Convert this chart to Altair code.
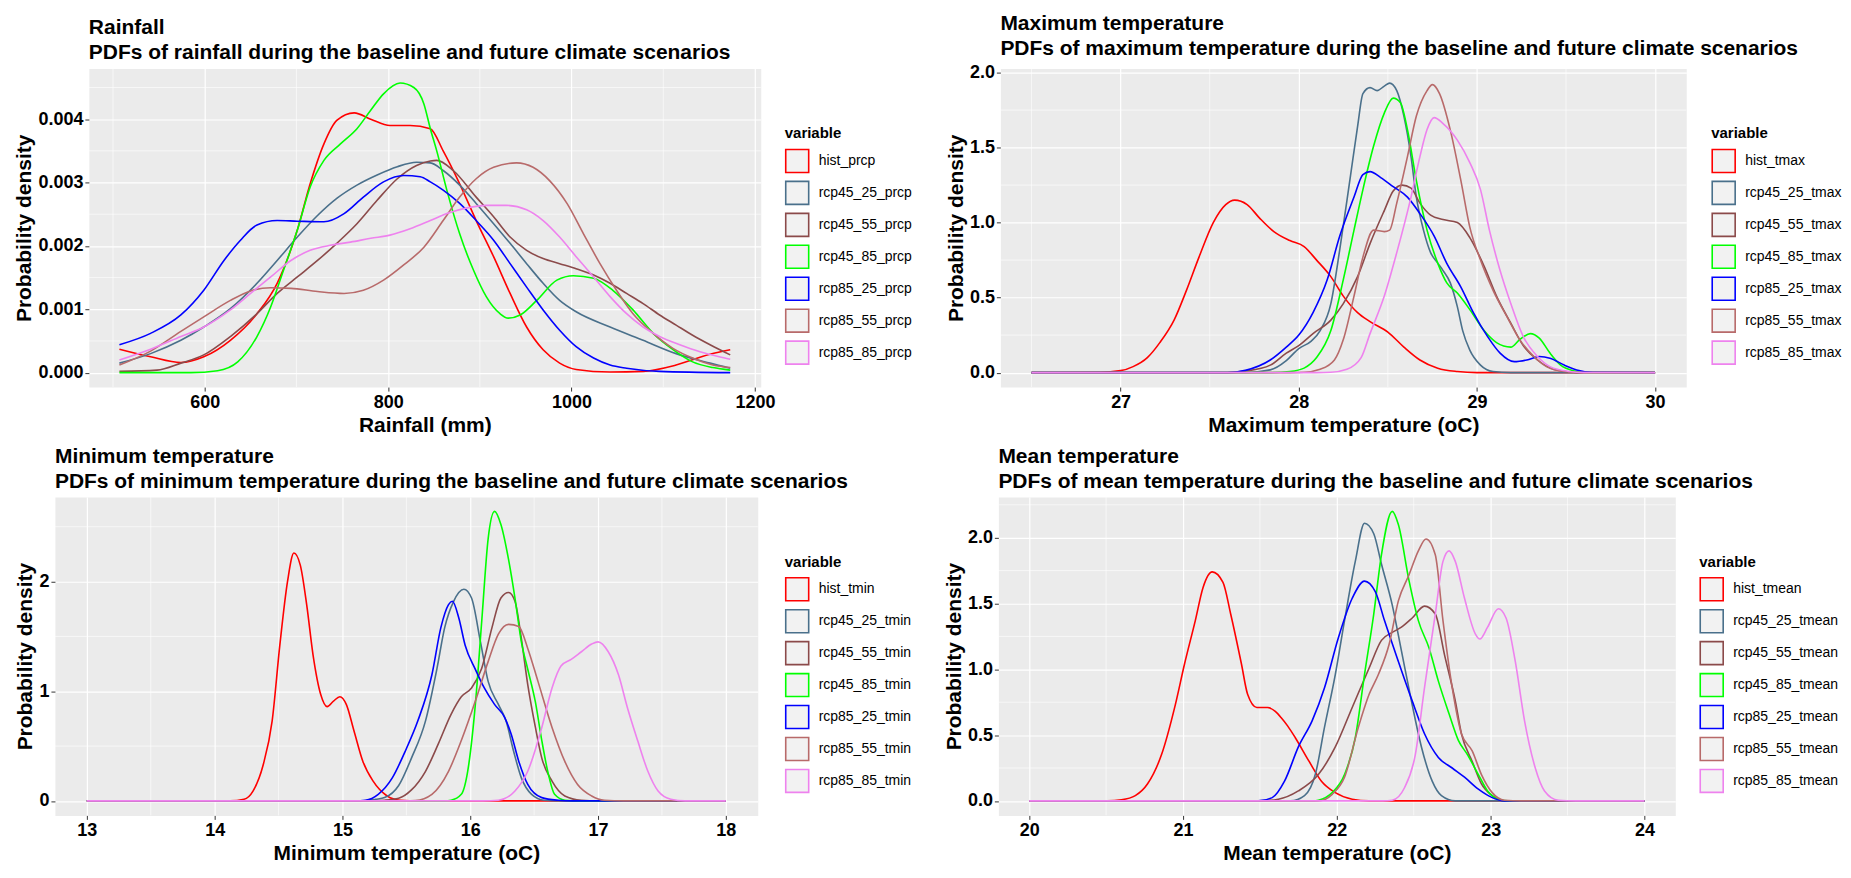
import altair as alt
import pandas as pd

FONT = "Liberation Sans"
COLORS = ["#FF0000", "#4A708B", "#8B4A4A", "#00FF00", "#0000FF", "#B86A6A", "#EE82EE"]

# ---------------- Rainfall ----------------
prcp_names = ["hist_prcp", "rcp45_25_prcp", "rcp45_55_prcp", "rcp45_85_prcp",
              "rcp85_25_prcp", "rcp85_55_prcp", "rcp85_85_prcp"]
hist_prcp_x = [507, 541, 574, 599, 628, 657, 679, 701, 715, 730, 744, 763, 781, 802, 824, 846, 860, 878, 896, 915, 933, 951, 969, 987, 1005, 1042, 1078, 1114, 1151, 1173]
hist_prcp_y = [0.00037, 0.00025, 0.00016, 0.00025, 0.00051, 0.00093, 0.00141, 0.00225, 0.00298, 0.00361, 0.00398, 0.0041, 0.0040, 0.0039, 0.0039, 0.00385, 0.0035, 0.00298, 0.0024, 0.00183, 0.00125, 0.00072, 0.00036, 0.00015, 0.00005, 0.00001, 0.00002, 0.00012, 0.00029, 0.00036]
r4525_prcp_x = [507, 541, 574, 599, 628, 657, 679, 701, 723, 744, 766, 788, 810, 831, 846, 860, 878, 896, 915, 933, 951, 969, 987, 1005, 1042, 1078, 1114, 1151, 1173]
r4525_prcp_y = [0.00015, 0.0003, 0.00051, 0.00072, 0.00101, 0.00141, 0.00177, 0.00214, 0.00248, 0.00275, 0.00296, 0.00312, 0.00325, 0.00332, 0.00331, 0.00319, 0.00296, 0.00267, 0.00235, 0.00204, 0.00172, 0.00141, 0.00114, 0.00096, 0.00072, 0.00051, 0.0003, 0.00015, 0.00007]
r4555_prcp_x = [507, 548, 574, 599, 628, 657, 679, 701, 723, 744, 766, 788, 810, 831, 846, 853, 871, 896, 915, 933, 951, 969, 987, 1005, 1024, 1042, 1060, 1078, 1096, 1114, 1132, 1151, 1173]
r4555_prcp_y = [0.00002, 0.00004, 0.00015, 0.00028, 0.00057, 0.00093, 0.00125, 0.00151, 0.00177, 0.00204, 0.00235, 0.00272, 0.00306, 0.00327, 0.00334, 0.00335, 0.00319, 0.00277, 0.00246, 0.00214, 0.00193, 0.0018, 0.00172, 0.00164, 0.00154, 0.00141, 0.00125, 0.00109, 0.00091, 0.00075, 0.00059, 0.00044, 0.00028]
r4585_prcp_x = [507, 585, 614, 636, 657, 672, 686, 701, 715, 730, 748, 766, 781, 795, 813, 828, 839, 846, 853, 864, 878, 893, 907, 922, 931, 944, 962, 984, 1002, 1024, 1045, 1067, 1089, 1111, 1132, 1154, 1173]
r4585_prcp_y = [0, 0, 0.00003, 0.00017, 0.00057, 0.00104, 0.00162, 0.00225, 0.00293, 0.00335, 0.00361, 0.00385, 0.00414, 0.0044, 0.00457, 0.0045, 0.00424, 0.00385, 0.0035, 0.00288, 0.00219, 0.00162, 0.0012, 0.00093, 0.00086, 0.00091, 0.00114, 0.00146, 0.00153, 0.00149, 0.0013, 0.00099, 0.00062, 0.00036, 0.00017, 0.00008, 0.00004]
r8525_prcp_x = [507, 541, 574, 599, 621, 639, 657, 679, 701, 730, 752, 773, 795, 817, 835, 846, 860, 878, 896, 915, 933, 951, 969, 987, 1005, 1024, 1042, 1060, 1096, 1173]
r8525_prcp_y = [0.00044, 0.00062, 0.00091, 0.0013, 0.00177, 0.00209, 0.00233, 0.0024, 0.00239, 0.00238, 0.00251, 0.00277, 0.00301, 0.00311, 0.00309, 0.00301, 0.00288, 0.00267, 0.0024, 0.00209, 0.00172, 0.00135, 0.00099, 0.00067, 0.00041, 0.00023, 0.00012, 0.00007, 0.00002, 0.0]
r8555_prcp_x = [507, 541, 574, 599, 628, 650, 672, 694, 723, 752, 773, 795, 817, 839, 860, 878, 896, 915, 940, 958, 976, 995, 1013, 1031, 1049, 1067, 1089, 1111, 1132, 1154, 1173]
r8555_prcp_y = [0.00012, 0.00034, 0.00065, 0.00088, 0.00114, 0.00129, 0.00134, 0.00133, 0.00128, 0.00125, 0.0013, 0.00146, 0.0017, 0.00198, 0.0024, 0.00277, 0.00306, 0.00324, 0.00331, 0.00324, 0.00303, 0.00267, 0.00219, 0.00172, 0.0013, 0.00093, 0.00062, 0.00038, 0.00023, 0.00012, 0.00008]
r8585_prcp_x = [507, 541, 574, 599, 628, 650, 672, 694, 715, 737, 759, 781, 802, 824, 846, 864, 886, 907, 929, 951, 969, 987, 1005, 1024, 1042, 1060, 1078, 1096, 1118, 1140, 1161, 1173]
r8585_prcp_y = [0.0002, 0.00037, 0.00057, 0.00072, 0.00099, 0.00125, 0.00151, 0.00177, 0.00193, 0.00201, 0.00206, 0.00212, 0.00217, 0.00227, 0.0024, 0.00251, 0.0026, 0.00264, 0.00264, 0.00257, 0.0024, 0.00214, 0.00183, 0.00151, 0.0012, 0.00093, 0.00072, 0.00057, 0.00044, 0.00033, 0.00025, 0.00021]

# ---------------- Maximum temperature ----------------
tmax_names = ["hist_tmax", "rcp45_25_tmax", "rcp45_55_tmax", "rcp45_85_tmax",
              "rcp85_25_tmax", "rcp85_55_tmax", "rcp85_85_tmax"]
hist_tmax_x = [26.5, 26.88, 27.0, 27.07, 27.15, 27.22, 27.3, 27.37, 27.44, 27.52, 27.59, 27.64, 27.71, 27.78, 27.86, 27.95, 28.03, 28.1, 28.18, 28.25, 28.33, 28.4, 28.5, 28.59, 28.68, 28.78, 28.89, 29.0, 30.0]
hist_tmax_y = [0, 0.002, 0.013, 0.04, 0.1, 0.2, 0.35, 0.55, 0.77, 1.0, 1.12, 1.15, 1.12, 1.03, 0.94, 0.88, 0.84, 0.75, 0.64, 0.51, 0.4, 0.34, 0.27, 0.17, 0.084, 0.029, 0.007, 0, 0]
r4525_tmax_x = [26.5, 27.7, 27.84, 27.93, 28.0, 28.07, 28.12, 28.18, 28.23, 28.29, 28.33, 28.36, 28.4, 28.44, 28.48, 28.51, 28.55, 28.59, 28.63, 28.66, 28.7, 28.74, 28.78, 28.81, 28.85, 28.89, 28.92, 28.96, 29.02, 29.09, 29.19, 30.0]
r4525_tmax_y = [0, 0, 0.018, 0.08, 0.16, 0.21, 0.28, 0.46, 0.82, 1.31, 1.64, 1.86, 1.9, 1.88, 1.91, 1.93, 1.88, 1.71, 1.44, 1.17, 0.95, 0.8, 0.73, 0.68, 0.6, 0.44, 0.28, 0.15, 0.05, 0.007, 0, 0]
r4555_tmax_x = [26.5, 27.6, 27.7, 27.84, 27.93, 28.0, 28.08, 28.18, 28.25, 28.33, 28.4, 28.48, 28.53, 28.58, 28.63, 28.68, 28.74, 28.81, 28.89, 28.96, 29.04, 29.11, 29.19, 29.26, 29.34, 29.43, 29.52, 29.6, 30.0]
r4555_tmax_y = [0, 0, 0.01, 0.05, 0.13, 0.18, 0.26, 0.35, 0.46, 0.64, 0.86, 1.08, 1.21, 1.25, 1.23, 1.13, 1.05, 1.02, 1.0, 0.9, 0.71, 0.51, 0.33, 0.18, 0.084, 0.022, 0.004, 0, 0]
r4585_tmax_x = [26.5, 27.85, 27.95, 28.03, 28.1, 28.18, 28.25, 28.31, 28.36, 28.42, 28.48, 28.53, 28.57, 28.61, 28.66, 28.72, 28.78, 28.83, 28.89, 28.96, 29.04, 29.11, 29.19, 29.24, 29.3, 29.35, 29.41, 29.47, 29.54, 29.63, 30.0]
r4585_tmax_y = [0, 0, 0.007, 0.03, 0.1, 0.28, 0.62, 0.95, 1.22, 1.51, 1.73, 1.83, 1.8, 1.62, 1.28, 0.95, 0.73, 0.6, 0.53, 0.42, 0.28, 0.2, 0.17, 0.22, 0.26, 0.23, 0.13, 0.05, 0.013, 0, 0]
r8525_tmax_x = [26.5, 27.6, 27.7, 27.84, 27.93, 28.0, 28.08, 28.16, 28.23, 28.31, 28.36, 28.4, 28.46, 28.53, 28.61, 28.68, 28.76, 28.83, 28.91, 28.98, 29.06, 29.13, 29.21, 29.28, 29.35, 29.41, 29.49, 29.56, 29.65, 30.0]
r8525_tmax_y = [0, 0, 0.015, 0.084, 0.17, 0.25, 0.4, 0.62, 0.91, 1.17, 1.32, 1.34, 1.3, 1.24, 1.17, 1.06, 0.91, 0.73, 0.57, 0.4, 0.24, 0.13, 0.073, 0.084, 0.107, 0.096, 0.05, 0.018, 0.002, 0]
r8555_tmax_x = [26.5, 27.95, 28.03, 28.12, 28.2, 28.25, 28.31, 28.36, 28.42, 28.48, 28.51, 28.55, 28.61, 28.66, 28.72, 28.75, 28.79, 28.85, 28.91, 28.96, 29.02, 29.09, 29.17, 29.24, 29.32, 29.39, 29.49, 29.6, 30.0]
r8555_tmax_y = [0, 0, 0.002, 0.022, 0.084, 0.22, 0.51, 0.77, 0.95, 0.94, 0.95, 1.13, 1.44, 1.71, 1.88, 1.92, 1.86, 1.62, 1.28, 0.97, 0.75, 0.55, 0.37, 0.22, 0.107, 0.04, 0.007, 0, 0]
r8585_tmax_x = [26.5, 28.1, 28.18, 28.27, 28.35, 28.4, 28.48, 28.55, 28.63, 28.68, 28.72, 28.76, 28.81, 28.89, 28.96, 29.02, 29.07, 29.13, 29.19, 29.26, 29.34, 29.41, 29.52, 29.6, 30.0]
r8585_tmax_y = [0, 0, 0.002, 0.022, 0.1, 0.26, 0.51, 0.8, 1.17, 1.44, 1.62, 1.7, 1.66, 1.55, 1.4, 1.22, 0.95, 0.68, 0.46, 0.24, 0.107, 0.04, 0.007, 0, 0]

# ---------------- Minimum temperature ----------------
tmin_names = ["hist_tmin", "rcp45_25_tmin", "rcp45_55_tmin", "rcp45_85_tmin",
              "rcp85_25_tmin", "rcp85_55_tmin", "rcp85_85_tmin"]
hist_tmin_x = [13.0, 14.12, 14.23, 14.3, 14.38, 14.45, 14.51, 14.57, 14.62, 14.67, 14.72, 14.77, 14.83, 14.88, 14.93, 14.98, 15.03, 15.09, 15.16, 15.24, 15.35, 15.45, 15.6, 18.0]
hist_tmin_y = [0, 0, 0.015, 0.09, 0.33, 0.73, 1.42, 2.0, 2.26, 2.15, 1.79, 1.33, 0.97, 0.86, 0.91, 0.95, 0.88, 0.64, 0.36, 0.18, 0.045, 0.006, 0, 0]
r4525_tmin_x = [13.0, 15.15, 15.26, 15.33, 15.44, 15.54, 15.65, 15.74, 15.8, 15.87, 15.95, 16.01, 16.08, 16.14, 16.22, 16.28, 16.34, 16.4, 16.48, 16.58, 16.7, 18.0]
r4525_tmin_y = [0, 0, 0.015, 0.03, 0.14, 0.39, 0.73, 1.21, 1.58, 1.82, 1.93, 1.85, 1.45, 1.09, 0.88, 0.73, 0.45, 0.21, 0.06, 0.006, 0, 0]
r4555_tmin_x = [13.0, 15.2, 15.33, 15.44, 15.54, 15.65, 15.75, 15.85, 15.93, 16.01, 16.09, 16.17, 16.24, 16.3, 16.35, 16.4, 16.45, 16.51, 16.56, 16.64, 16.74, 16.87, 17.0, 18.0]
r4555_tmin_y = [0, 0, 0.006, 0.024, 0.1, 0.27, 0.52, 0.79, 0.95, 1.03, 1.21, 1.58, 1.85, 1.9, 1.82, 1.48, 1.06, 0.67, 0.39, 0.18, 0.045, 0.006, 0, 0]
r4585_tmin_x = [13.0, 15.8, 15.85, 15.93, 15.98, 16.04, 16.09, 16.14, 16.19, 16.24, 16.3, 16.35, 16.4, 16.45, 16.51, 16.56, 16.61, 16.66, 16.74, 16.85, 18.0]
r4585_tmin_y = [0, 0, 0.006, 0.06, 0.27, 0.88, 1.64, 2.39, 2.64, 2.52, 2.2, 1.85, 1.45, 1.2, 0.9, 0.55, 0.25, 0.06, 0.006, 0, 0]
r8525_tmin_x = [13.0, 15.1, 15.18, 15.28, 15.39, 15.49, 15.59, 15.7, 15.77, 15.83, 15.86, 15.91, 15.96, 16.04, 16.11, 16.19, 16.27, 16.32, 16.38, 16.45, 16.56, 16.69, 16.8, 18.0]
r8525_tmin_y = [0, 0, 0.006, 0.06, 0.21, 0.45, 0.73, 1.15, 1.58, 1.79, 1.82, 1.67, 1.42, 1.2, 1.03, 0.88, 0.76, 0.61, 0.36, 0.15, 0.03, 0.006, 0, 0]
r8555_tmin_x = [13.0, 15.5, 15.57, 15.7, 15.83, 15.93, 16.04, 16.14, 16.22, 16.3, 16.38, 16.45, 16.53, 16.64, 16.74, 16.84, 16.95, 17.05, 17.2, 18.0]
r8555_tmin_y = [0, 0, 0.003, 0.06, 0.27, 0.55, 0.91, 1.27, 1.52, 1.61, 1.59, 1.39, 1.09, 0.67, 0.36, 0.15, 0.045, 0.006, 0, 0]
r8585_tmin_x = [13.0, 16.1, 16.22, 16.35, 16.45, 16.56, 16.64, 16.71, 16.79, 16.87, 16.95, 17.0, 17.08, 17.16, 17.23, 17.31, 17.39, 17.47, 17.57, 17.68, 18.0]
r8585_tmin_y = [0, 0, 0.006, 0.09, 0.27, 0.67, 1.03, 1.23, 1.29, 1.36, 1.43, 1.45, 1.36, 1.15, 0.85, 0.55, 0.27, 0.09, 0.015, 0, 0]

# ---------------- Mean temperature ----------------
tmean_names = ["hist_tmean", "rcp45_25_tmean", "rcp45_55_tmean", "rcp45_85_tmean",
               "rcp85_25_tmean", "rcp85_55_tmean", "rcp85_85_tmean"]
hist_tmean_x = [20.0, 20.51, 20.6, 20.69, 20.77, 20.86, 20.95, 21.01, 21.08, 21.13, 21.19, 21.26, 21.31, 21.38, 21.42, 21.48, 21.55, 21.6, 21.64, 21.68, 21.73, 21.82, 21.9, 21.99, 22.1, 22.21, 24.0]
hist_tmean_y = [0, 0, 0.008, 0.04, 0.13, 0.35, 0.73, 1.04, 1.37, 1.62, 1.74, 1.66, 1.42, 1.04, 0.81, 0.71, 0.71, 0.68, 0.63, 0.57, 0.48, 0.3, 0.15, 0.063, 0.013, 0, 0]
r4525_tmean_x = [20.0, 21.7, 21.79, 21.86, 21.92, 21.99, 22.05, 22.12, 22.18, 22.24, 22.29, 22.36, 22.42, 22.49, 22.55, 22.62, 22.68, 22.77, 24.0]
r4525_tmean_y = [0, 0, 0.04, 0.2, 0.56, 0.96, 1.37, 1.82, 2.11, 2.03, 1.8, 1.49, 1.14, 0.73, 0.41, 0.15, 0.04, 0, 0]
r4555_tmean_x = [20.0, 21.49, 21.62, 21.75, 21.88, 21.99, 22.1, 22.21, 22.29, 22.36, 22.42, 22.49, 22.57, 22.64, 22.7, 22.77, 22.81, 22.88, 22.94, 23.01, 23.09, 24.0]
r4555_tmean_y = [0, 0, 0.013, 0.076, 0.2, 0.41, 0.71, 1.01, 1.22, 1.28, 1.32, 1.39, 1.48, 1.42, 1.11, 0.76, 0.51, 0.3, 0.13, 0.04, 0, 0]
r4585_tmean_x = [20.0, 21.85, 21.88, 21.97, 22.05, 22.12, 22.18, 22.24, 22.29, 22.36, 22.4, 22.47, 22.53, 22.6, 22.66, 22.73, 22.79, 22.85, 22.92, 22.98, 23.05, 23.11, 24.0]
r4585_tmean_y = [0, 0, 0.005, 0.063, 0.2, 0.48, 0.96, 1.42, 1.87, 2.2, 2.1, 1.67, 1.37, 1.16, 0.91, 0.66, 0.46, 0.35, 0.2, 0.076, 0.013, 0, 0]
r8525_tmean_x = [20.0, 21.49, 21.58, 21.66, 21.75, 21.84, 21.92, 22.01, 22.1, 22.18, 22.25, 22.31, 22.4, 22.49, 22.57, 22.66, 22.75, 22.83, 22.92, 23.01, 23.09, 24.0]
r8525_tmean_y = [0, 0, 0.025, 0.15, 0.41, 0.61, 0.86, 1.24, 1.54, 1.67, 1.59, 1.37, 1.06, 0.76, 0.51, 0.33, 0.25, 0.18, 0.089, 0.025, 0, 0]
r8555_tmean_x = [20.0, 21.88, 21.97, 22.05, 22.14, 22.21, 22.27, 22.34, 22.4, 22.47, 22.53, 22.58, 22.64, 22.69, 22.75, 22.81, 22.88, 22.94, 23.01, 23.09, 23.2, 24.0]
r8555_tmean_y = [0, 0, 0.05, 0.18, 0.56, 0.81, 0.96, 1.19, 1.52, 1.72, 1.9, 1.99, 1.87, 1.37, 0.86, 0.51, 0.38, 0.2, 0.063, 0.005, 0, 0]
r8585_tmean_x = [20.0, 22.3, 22.36, 22.44, 22.51, 22.57, 22.64, 22.69, 22.73, 22.77, 22.83, 22.9, 22.93, 22.98, 23.05, 23.1, 23.16, 23.22, 23.29, 23.35, 23.44, 23.55, 24.0]
r8585_tmean_y = [0, 0, 0.005, 0.1, 0.35, 0.86, 1.42, 1.82, 1.9, 1.82, 1.54, 1.27, 1.23, 1.32, 1.46, 1.39, 1.06, 0.61, 0.25, 0.076, 0.005, 0, 0]

# ---------------- axis ticks ----------------
prcp_xmajor, prcp_xminor = [600, 800, 1000, 1200], [500, 700, 900, 1100]
prcp_ymajor, prcp_yminor = [0, 0.001, 0.002, 0.003, 0.004], [0.0005, 0.0015, 0.0025, 0.0035, 0.0045]
tmax_xmajor, tmax_xminor = [27, 28, 29, 30], [26.5, 27.5, 28.5, 29.5]
tmax_ymajor, tmax_yminor = [0, 0.5, 1.0, 1.5, 2.0], [0.25, 0.75, 1.25, 1.75]
tmin_xmajor, tmin_xminor = [13, 14, 15, 16, 17, 18], [13.5, 14.5, 15.5, 16.5, 17.5]
tmin_ymajor, tmin_yminor = [0, 1, 2], [0.5, 1.5, 2.5]
tmean_xmajor, tmean_xminor = [20, 21, 22, 23, 24], [20.5, 21.5, 22.5, 23.5]
tmean_ymajor, tmean_yminor = [0, 0.5, 1.0, 1.5, 2.0], [0.25, 0.75, 1.25, 1.75, 2.25]


def to_frame(names, xs_list, ys_list):
    rows = []
    for name, xs, ys in zip(names, xs_list, ys_list):
        for x, y in zip(xs, ys):
            rows.append({"x": x, "y": y, "variable": name})
    return pd.DataFrame(rows)


def panel(df, names, title, xtitle, xdom, xmajor, xminor, ydom, ymajor, yminor,
          yfmt, width, height, legend_x, legend_y):
    xs = alt.Scale(domain=xdom, nice=False, zero=False)
    ys = alt.Scale(domain=ydom, nice=False, zero=False)
    xaxis = alt.Axis(values=xmajor, format="d", title=xtitle)
    yaxis = alt.Axis(values=ymajor, format=yfmt, title="Probability density")
    minor_x = alt.Chart(pd.DataFrame({"v": xminor})).mark_rule(
        color="white", strokeWidth=0.6).encode(x=alt.X("v:Q", scale=xs, axis=xaxis))
    minor_y = alt.Chart(pd.DataFrame({"v": yminor})).mark_rule(
        color="white", strokeWidth=0.6).encode(y=alt.Y("v:Q", scale=ys, axis=yaxis))
    lines = alt.Chart(df).mark_line(strokeWidth=1.6, interpolate="monotone").encode(
        x=alt.X("x:Q", scale=xs, axis=xaxis),
        y=alt.Y("y:Q", scale=ys, axis=yaxis),
        color=alt.Color("variable:N", scale=alt.Scale(domain=names, range=COLORS),
                        legend=alt.Legend(title="variable", orient="none",
                                          legendX=legend_x, legendY=legend_y,
                                          direction="vertical")),
    )
    return alt.layer(minor_x, minor_y, lines).properties(
        width=width, height=height,
        title=alt.TitleParams(text=title, anchor="start", frame="group",
                              fontSize=21, fontWeight="bold", font=FONT,
                              color="black", lineHeight=25, offset=5),
    )


p1 = panel(to_frame(prcp_names,
                    [hist_prcp_x, r4525_prcp_x, r4555_prcp_x, r4585_prcp_x, r8525_prcp_x, r8555_prcp_x, r8585_prcp_x],
                    [hist_prcp_y, r4525_prcp_y, r4555_prcp_y, r4585_prcp_y, r8525_prcp_y, r8555_prcp_y, r8585_prcp_y]),
           prcp_names,
           ["Rainfall", "PDFs of rainfall during the baseline and future climate scenarios"],
           "Rainfall (mm)", [473.7, 1206.3], prcp_xmajor, prcp_xminor,
           [-0.000228, 0.004798], prcp_ymajor, prcp_yminor, ".3f", 673, 319, 697, 58)

p2 = panel(to_frame(tmax_names,
                    [hist_tmax_x, r4525_tmax_x, r4555_tmax_x, r4585_tmax_x, r8525_tmax_x, r8555_tmax_x, r8585_tmax_x],
                    [hist_tmax_y, r4525_tmax_y, r4555_tmax_y, r4585_tmax_y, r8525_tmax_y, r8555_tmax_y, r8585_tmax_y]),
           tmax_names,
           ["Maximum temperature", "PDFs of maximum temperature during the baseline and future climate scenarios"],
           "Maximum temperature (oC)", [26.325, 30.175], tmax_xmajor, tmax_xminor,
           [-0.0965, 2.0265], tmax_ymajor, tmax_yminor, ".1f", 687, 319, 712, 58)

p3 = panel(to_frame(tmin_names,
                    [hist_tmin_x, r4525_tmin_x, r4555_tmin_x, r4585_tmin_x, r8525_tmin_x, r8555_tmin_x, r8585_tmin_x],
                    [hist_tmin_y, r4525_tmin_y, r4555_tmin_y, r4585_tmin_y, r8525_tmin_y, r8555_tmin_y, r8585_tmin_y]),
           tmin_names,
           ["Minimum temperature", "PDFs of minimum temperature during the baseline and future climate scenarios"],
           "Minimum temperature (oC)", [12.75, 18.25], tmin_xmajor, tmin_xminor,
           [-0.132, 2.772], tmin_ymajor, tmin_yminor, "d", 704, 319, 731, 58)

p4 = panel(to_frame(tmean_names,
                    [hist_tmean_x, r4525_tmean_x, r4555_tmean_x, r4585_tmean_x, r8525_tmean_x, r8555_tmean_x, r8585_tmean_x],
                    [hist_tmean_y, r4525_tmean_y, r4555_tmean_y, r4585_tmean_y, r8525_tmean_y, r8555_tmean_y, r8585_tmean_y]),
           tmean_names,
           ["Mean temperature", "PDFs of mean temperature during the baseline and future climate scenarios"],
           "Mean temperature (oC)", [19.8, 24.2], tmean_xmajor, tmean_xminor,
           [-0.11, 2.31], tmean_ymajor, tmean_yminor, ".1f", 678, 319, 702, 58)

# invisible spacer so that the top-left panel (wider y labels) starts further right
spacer = alt.Chart(pd.DataFrame({"sp": [0]})).mark_point(opacity=0).encode(
    x=alt.X("sp:Q", axis=None), y=alt.Y("sp:Q", axis=None)
).properties(width=34, height=319,
             view=alt.ViewBackground(fill="transparent", stroke="transparent"))

top_pair = alt.hconcat(p1, p2, spacing=240, bounds="flush").resolve_scale(color="independent")
row1 = alt.hconcat(spacer, top_pair, spacing=0, bounds="flush").resolve_scale(color="independent")
row2 = alt.hconcat(p3, p4, spacing=241, bounds="flush").resolve_scale(color="independent")

chart = alt.vconcat(row1, row2, spacing=9).resolve_scale(color="independent").properties(
    padding={"left": 5, "top": 3, "right": 0, "bottom": 0}
).configure(
    font=FONT, background="white"
).configure_view(
    fill="#EBEBEB", stroke="transparent"
).configure_axis(
    grid=True, gridColor="white", gridWidth=1.2, domain=False,
    tickColor="#333333", tickSize=4, tickWidth=1,
    labelColor="black", labelFont=FONT, labelFontSize=18, labelFontWeight="bold",
    labelPadding=2,
    titleColor="black", titleFont=FONT, titleFontSize=21, titleFontWeight="bold",
    titlePadding=3,
).configure_legend(
    symbolType="square", symbolSize=529, symbolStrokeWidth=1.6,
    symbolFillColor="#F2F2F2", symbolBaseFillColor="#F2F2F2",
    labelFont=FONT, labelFontSize=14, labelColor="black", labelOffset=9,
    titleFont=FONT, titleFontSize=15, titleFontWeight="bold", titleColor="black",
    titlePadding=7, rowPadding=1, padding=0,
)

chart.save("out.html", embed_options={"renderer": "svg", "actions": False})
